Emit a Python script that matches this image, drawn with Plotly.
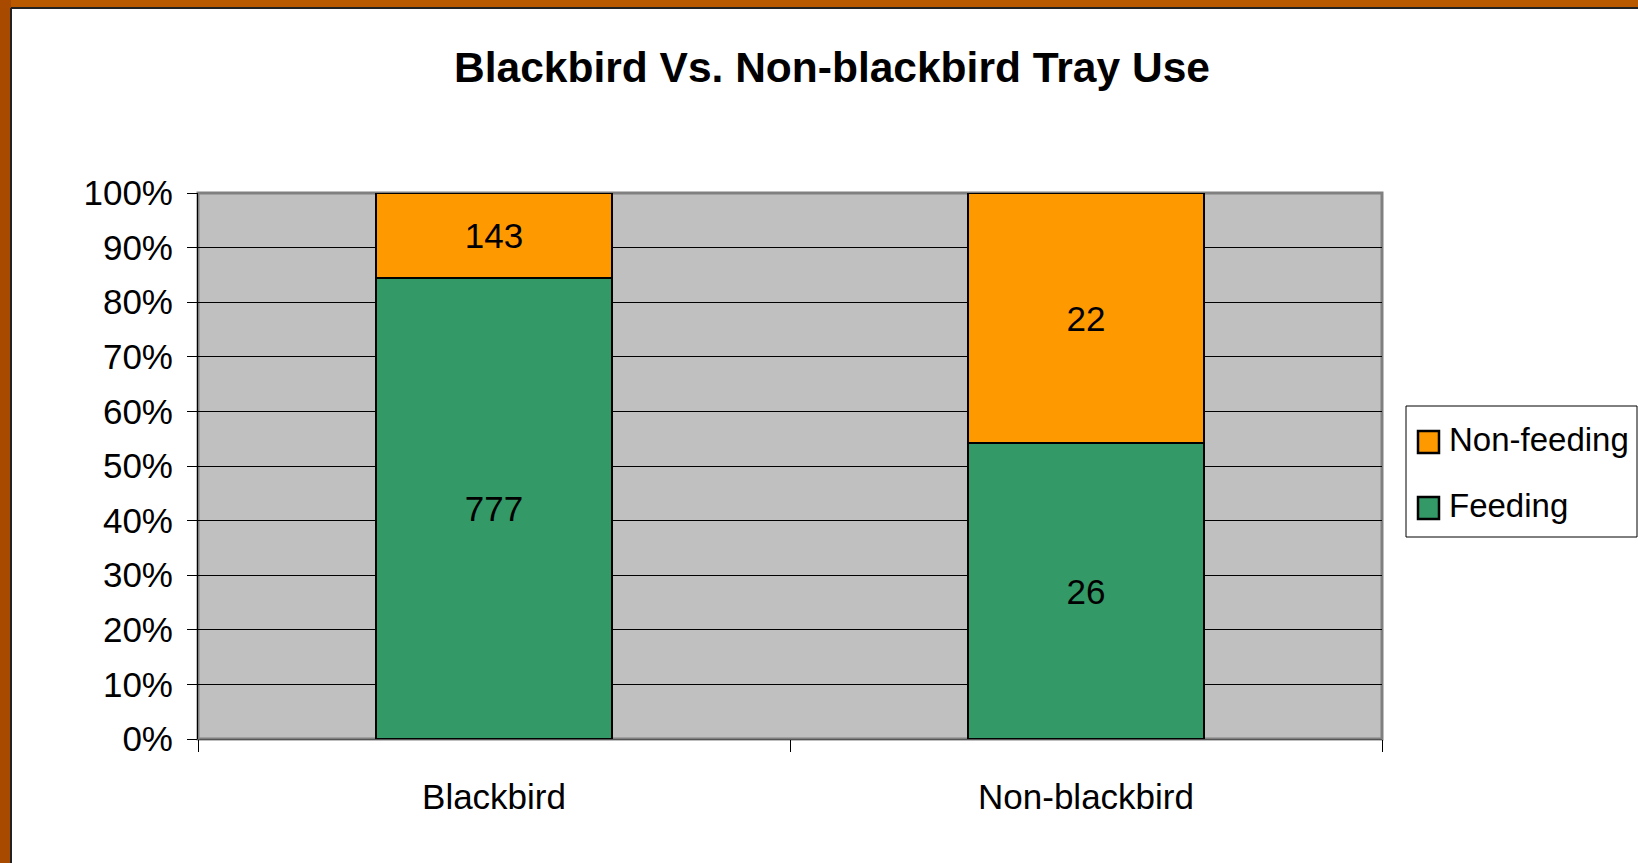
import plotly.graph_objects as go

categories = ["Blackbird", "Non-blackbird"]
feeding = [777, 26]
non_feeding = [143, 22]
series_names = ["Feeding", "Non-feeding"]
series_colors = ["#339966", "#FF9900"]
y_ticks = [0, 10, 20, 30, 40, 50, 60, 70, 80, 90, 100]
y_tick_labels = [f"{v}%" for v in y_ticks]
title_text = "Blackbird Vs. Non-blackbird Tray Use"

W, H = 1638, 863
L, R, T, B = 198, 256, 193, 124
PW, PH = W - L - R, H - T - B
FONT = "Liberation Sans, Arial, sans-serif"


def px(x):
    return (x - L) / PW


def py(y):
    return (H - B - y) / PH


fig = go.Figure()
for name, vals, col in zip(series_names, [feeding, non_feeding], series_colors):
    fig.add_trace(go.Bar(
        x=categories, y=vals, name=name,
        marker=dict(color=col, line=dict(color="black", width=2)),
        text=[str(v) for v in vals], textposition="inside",
        insidetextanchor="middle", textangle=0,
        textfont=dict(family=FONT, size=35, color="black"),
    ))

fig.update_layout(
    width=W, height=H,
    barmode="stack", barnorm="percent", bargap=0.6,
    paper_bgcolor="white",
    plot_bgcolor="#C0C0C0",
    margin=dict(l=L, r=R, t=T, b=B, autoexpand=False),
    font=dict(family=FONT, color="black"),
    title=dict(text=f"<b>{title_text}</b>",
               x=832 / W, xanchor="center", y=1 - 67 / H, yanchor="middle",
               font=dict(family=FONT, size=42.5, color="black")),
    showlegend=False,
)

fig.update_yaxes(
    range=[0, 100], tickvals=y_ticks, ticktext=y_tick_labels,
    showgrid=True, gridcolor="black", gridwidth=1,
    ticks="outside", ticklen=10, tickcolor="black", tickwidth=1,
    ticklabelstandoff=7,
    showline=True, linecolor="black", linewidth=1,
    tickfont=dict(family=FONT, size=35, color="black"),
    zeroline=False, fixedrange=True,
)
fig.update_xaxes(
    ticks="outside", tickson="boundaries", ticklen=12, tickcolor="black",
    tickwidth=1, showline=True, linecolor="#555555", linewidth=1,
    ticklabelstandoff=27,
    tickfont=dict(family=FONT, size=35, color="black"),
    showgrid=False,
)

shapes = []
# orange slide frame (top and left strips)
shapes.append(dict(type="rect", xref="paper", yref="paper",
                   x0=px(0), x1=px(W), y0=py(8), y1=py(0),
                   fillcolor="#BA5A00", line=dict(width=0), layer="above"))
shapes.append(dict(type="rect", xref="paper", yref="paper",
                   x0=px(0), x1=px(11), y0=py(H), y1=py(0),
                   fillcolor="#A84A00", line=dict(width=0), layer="above"))
shapes.append(dict(type="line", xref="paper", yref="paper",
                   x0=px(11), x1=px(W), y0=py(8), y1=py(8),
                   line=dict(color="#222222", width=2), layer="above"))
shapes.append(dict(type="line", xref="paper", yref="paper",
                   x0=px(11), x1=px(11), y0=py(8), y1=py(H),
                   line=dict(color="#222222", width=2), layer="above"))
# plot area border
shapes.append(dict(type="rect", xref="paper", yref="paper",
                   x0=0, x1=1, y0=0, y1=1,
                   fillcolor="rgba(0,0,0,0)", line=dict(color="#808080", width=3),
                   layer="between"))
# legend box
shapes.append(dict(type="rect", xref="paper", yref="paper",
                   x0=px(1406), x1=px(1637), y0=py(537), y1=py(406),
                   fillcolor="white", line=dict(color="black", width=1),
                   layer="above"))
annotations = []
legend_rows = [(series_names[1], series_colors[1], 442),
               (series_names[0], series_colors[0], 508)]
for name, col, cy in legend_rows:
    shapes.append(dict(type="rect", xref="paper", yref="paper",
                       x0=px(1418), x1=px(1439), y0=py(cy + 11), y1=py(cy - 11),
                       fillcolor=col, line=dict(color="black", width=2.5),
                       layer="above"))
    annotations.append(dict(xref="paper", yref="paper", x=px(1447), y=py(cy - 3),
                            xanchor="left", yanchor="middle", showarrow=False,
                            text=name,
                            font=dict(family=FONT, size=33, color="black")))

fig.update_layout(shapes=shapes, annotations=annotations)

fig.write_html("out.html",
               config={"displayModeBar": False},
               post_script="document.body.style.margin='0';"
                           "document.body.style.overflow='hidden';")
